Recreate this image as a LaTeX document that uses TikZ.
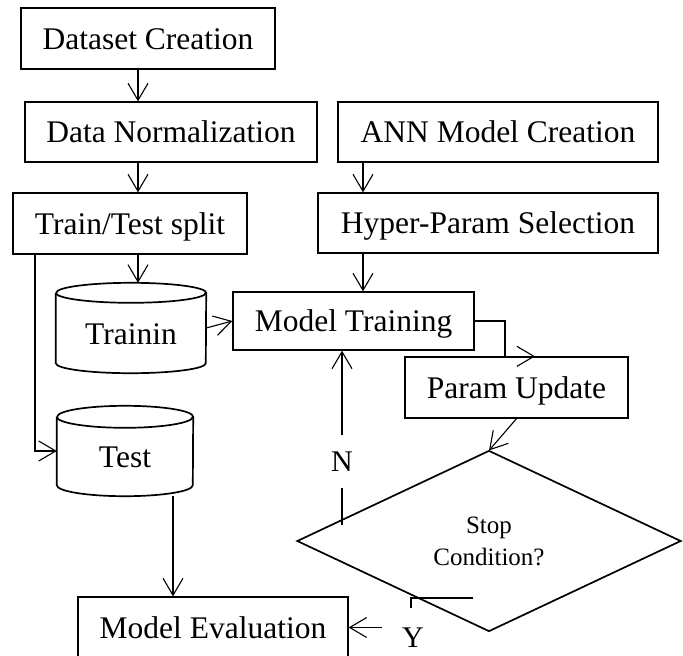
\documentclass[tikz,border=0pt]{standalone}
\usepackage{fontspec}
\setmainfont{Liberation Serif}
\usetikzlibrary{arrows.meta,shapes.geometric}

\tikzset{
  box/.style={draw, line width=1.3pt, inner sep=0pt, text height=21pt, text depth=0pt,
    font=\fontsize{31.5}{38}\selectfont},
  drum/.style={inner sep=0pt, text height=33pt, text depth=0pt,
    font=\fontsize{31.5}{38}\selectfont},
  drumline/.style={line width=1.7pt},
  link/.style={line width=1.1pt},
  arr/.style={line width=1.1pt, -{Straight Barb[length=17pt,width=20pt,line width=1.1pt]}},
  yn/.style={inner sep=0pt, font=\fontsize{30}{36}\selectfont},
  decision/.style={diamond, draw, line width=1.7pt, inner sep=0pt, align=center,
    font=\fontsize{25}{32}\selectfont}
}

% outline of a storage drum around node #1 (half width #2, end radius #3)
\newcommand\drawdrum[3]{%
  \draw[drumline] ([yshift=-#3]#1.north west) -- ([yshift=#3]#1.south west)
    arc[start angle=180, end angle=360, x radius=#2, y radius=#3]
    -- ([yshift=-#3]#1.north east)
    arc[start angle=0, end angle=180, x radius=#2, y radius=#3];
  \draw[drumline] ([yshift=-#3]#1.north west)
    arc[start angle=180, end angle=360, x radius=#2, y radius=#3];
}

\begin{document}
\begin{tikzpicture}[x=1pt,y=-1pt]
\useasboundingbox (0,0) rectangle (683,656);

% process boxes
\node[box, minimum width=254pt, minimum height=61pt] (ds) at (148,38.5) {Dataset Creation};
\node[box, minimum width=292pt, minimum height=60pt] (dn) at (171,132) {Data Normalization};
\node[box, minimum width=320pt, minimum height=60pt] (an) at (498,132) {ANN Model Creation};
\node[box, minimum width=234pt, minimum height=61pt] (tt) at (130,223.5) {Train/Test split};
\node[box, minimum width=340pt, minimum height=60pt] (hp) at (488,223) {Hyper-Param Selection};
\node[box, minimum width=241pt, minimum height=58pt] (mt) at (353.5,321) {Model Training};
\node[box, minimum width=223pt, minimum height=61pt] (pu) at (516.5,387.5) {Param Update};
\node[box, minimum width=270pt, minimum height=61pt] (me) at (213,627.5) {Model Evaluation};

% data stores
\node[drum, minimum width=150pt, minimum height=90pt] (tr) at (131,328) {Trainin};
\drawdrum{tr}{75pt}{10pt}
\node[drum, minimum width=136pt, minimum height=90pt] (te) at (125,451) {Test};
\drawdrum{te}{68pt}{11pt}

% branch labels
\node[yn, minimum height=53pt] (nl) at (342,461.5) {N};
\node[yn, minimum width=62pt, minimum height=60pt] (yl) at (413,638) {Y};

% guide columns for the connectors
\coordinate (ca) at (138,0);
\coordinate (cb) at (363,0);
\coordinate (cl) at (35,0);
\coordinate (ct) at (173,0);
\coordinate (cn) at (342,0);
\coordinate (cy) at (411,0);
\coordinate (ck) at (505,0);
\coordinate (cp) at (535,0);
\coordinate (ns) at (342,525);
\coordinate (ys) at (473,598);

% connectors
\draw[arr] (ds.south -| ca) -- (dn.north -| ca);
\draw[arr] (dn.south -| ca) -- (tt.north -| ca);
\draw[arr] (tt.south -| ca) -- (tr.north -| ca);
\draw[arr] (an.south -| cb) -- (hp.north -| cb);
\draw[arr] (hp.south -| cb) -- (mt.north -| cb);
\draw[arr] (tr.east) -- (mt.west);
\draw[arr] (tt.south -| cl) |- (te.west);
\draw[arr] (te.south -| ct) -- (me.north -| ct);
\draw[arr] (mt.east) -| (pu.north -| ck) -- (pu.north -| cp);
\draw[arr] (pu.south) -- (489,450.5);

\draw[link] (ns) -- (nl.south);
\draw[arr] (nl.north) -- (mt.south -| cn);
\draw[link] (ys) -| (yl.north -| cy);
\draw[arr] (yl.west |- me.east) -- (me.east);

% decision
\node[decision, minimum width=384pt, minimum height=181pt] (dc) at (489,541) {Stop\\Condition?};

\end{tikzpicture}
\end{document}
